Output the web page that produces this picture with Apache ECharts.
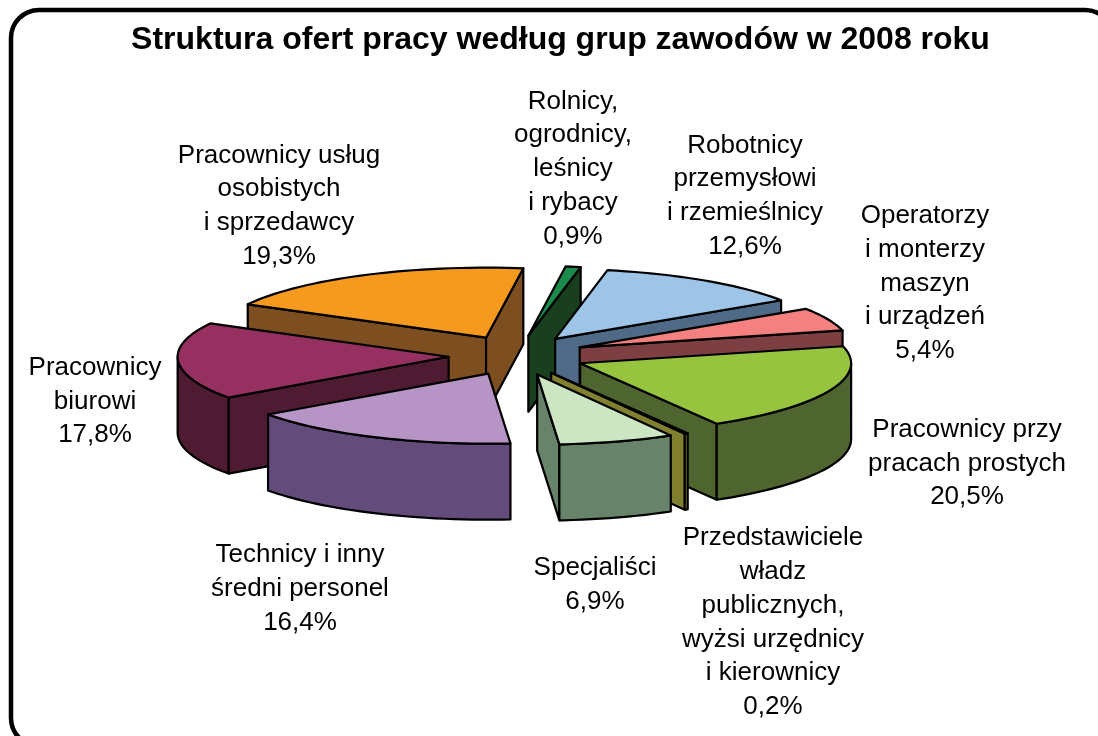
<!DOCTYPE html>
<html style="height: 100%">
<head>
<meta charset="utf-8">
<script src="https://cdn.jsdelivr.net/npm/echarts@6/dist/echarts.min.js"></script>
</head>
<body style="height: 100%; margin: 0; background: #fff">
<div id="container" style="width: 1098px; height: 736px"></div>
<script type="text/javascript">
var categories = [
    'Rolnicy,\nogrodnicy,\nleśnicy\ni rybacy',
    'Robotnicy\nprzemysłowi\ni rzemieślnicy',
    'Operatorzy\ni monterzy\nmaszyn\ni urządzeń',
    'Pracownicy przy\npracach prostych',
    'Przedstawiciele\nwładz\npublicznych,\nwyżsi urzędnicy\ni kierownicy',
    'Specjaliści',
    'Technicy i inny\nśredni personel',
    'Pracownicy\nbiurowi',
    'Pracownicy usług\nosobistych\ni sprzedawcy'
];
var values = [0.9, 12.6, 5.4, 20.5, 0.2, 6.9, 16.4, 17.8, 19.3];

var topColors = ['#1b8a4b', '#9ec5e8', '#f58080', '#97c43e', '#a3a63c', '#cce6c4', '#b695c6', '#953060', '#f59a1f'];
var sideColors = ['#1a3f1e', '#4f6a86', '#7e3f42', '#4f652f', '#80802f', '#67836a', '#634c7b', '#4f1b33', '#7d4e20'];
// label centres, one per category
var labelX = [573, 745, 925, 967, 773, 595, 300, 95, 279];
var labelY = [169, 196, 283.5, 463.5, 622.5, 584.5, 589, 401.5, 206];

// projected pie
var cx = 517, cy = 355.5, rx = 271, ry = 70, depth = 76;
var explodeX = 68.5, explodeY = 20;
var startDeg = 7.9;
var rad = Math.PI / 180;

function rim(a, r, dx, dy) {
    return [cx + dx + r * rx * Math.sin(a * rad), cy + dy - r * ry * Math.cos(a * rad)];
}
function down(p) {
    return [p[0], p[1] + depth];
}

// work out the angles of every slice
var total = values.reduce(function (s, v) { return s + v; }, 0);
var slices = [];
var acc = startDeg;
values.forEach(function (v, i) {
    var a0 = acc, a1 = acc + v / total * 360;
    acc = a1;
    slices.push({ i: i, a0: a0, a1: a1, mid: (a0 + a1) / 2 });
});

function wall(pts, color) {
    return {
        type: 'polygon',
        shape: { points: pts },
        style: { fill: color, stroke: '#000', lineWidth: 2.2, lineJoin: 'round' }
    };
}

function renderSlice(params, api) {
    var s = slices[api.value(0)];
    var dx = explodeX * Math.sin(s.mid * rad);
    var dy = -explodeY * Math.cos(s.mid * rad);
    var apex = [cx + dx, cy + dy];
    var p0 = rim(s.a0, 1, dx, dy), p1 = rim(s.a1, 1, dx, dy);
    var side = sideColors[s.i];
    var kids = [];

    // cut faces which look towards the viewer
    if (p0[0] < apex[0]) {
        kids.push(wall([apex, p0, down(p0), down(apex)], side));
    }
    if (p1[0] > apex[0]) {
        kids.push(wall([p1, apex, down(apex), down(p1)], side));
    }
    // outer rim, front half only
    var from = Math.max(s.a0, 90), to = Math.min(s.a1, 270);
    if (to > from) {
        var upper = [], lower = [];
        for (var a = from; a < to; a += 2) {
            upper.push(rim(a, 1, dx, dy));
        }
        upper.push(rim(to, 1, dx, dy));
        lower = upper.map(down).reverse();
        kids.push(wall(upper.concat(lower), side));
    }
    // top
    var topPts = [apex];
    for (var b = s.a0; b < s.a1; b += 2) {
        topPts.push(rim(b, 1, dx, dy));
    }
    topPts.push(p1);
    kids.push(wall(topPts, topColors[s.i]));

    return { type: 'group', children: kids };
}

// back slices first
var drawOrder = slices.slice().sort(function (a, b) {
    return Math.cos(b.mid * rad) - Math.cos(a.mid * rad);
}).map(function (s) { return [s.i]; });

function valueText(v) {
    return v.toFixed(1).replace('.', ',') + '%';
}

var myChart = echarts.init(document.getElementById('container'), null, { renderer: 'canvas' });
var option = {
    animation: false,
    backgroundColor: '#fff',
    title: {
        text: 'Struktura ofert pracy według grup zawodów w 2008 roku',
        left: 555.5,
        top: 19,
        textAlign: 'center',
        textStyle: { color: '#000', fontFamily: 'Liberation Sans', fontWeight: 'bold', fontSize: 32 }
    },
    graphic: [{
        type: 'rect',
        shape: { x: 11, y: 10, width: 1102, height: 736, r: 28 },
        style: { fill: 'none', stroke: '#000', lineWidth: 4.5 }
    }].concat(categories.map(function (c, i) {
        return {
            type: 'text',
            x: labelX[i],
            y: labelY[i],
            style: {
                text: c + '\n' + valueText(values[i]),
                align: 'center',
                verticalAlign: 'middle',
                fill: '#000',
                font: '26px "Liberation Sans"',
                lineHeight: 33.7
            }
        };
    })),
    series: [{
        type: 'custom',
        coordinateSystem: 'none',
        renderItem: renderSlice,
        data: drawOrder
    }]
};
myChart.setOption(option);
</script>
</body>
</html>
